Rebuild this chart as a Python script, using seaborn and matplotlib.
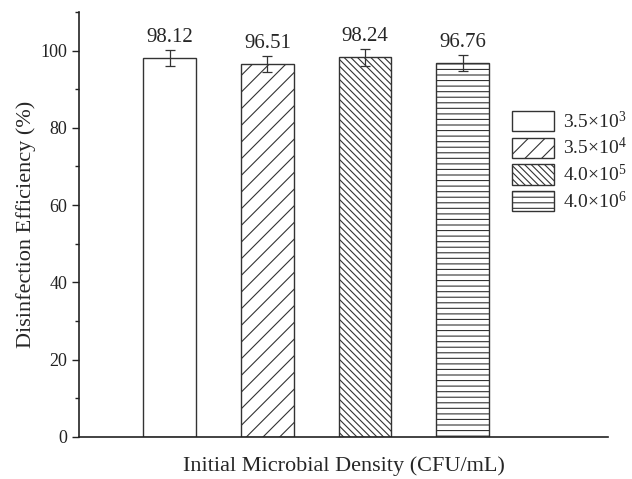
import pandas as pd
import seaborn as sns
import matplotlib.pyplot as plt
from matplotlib.ticker import MultipleLocator

# data
densities = ["3.5×10$^{3}$", "3.5×10$^{4}$", "4.0×10$^{5}$", "4.0×10$^{6}$"]
efficiency = [98.12, 96.51, 98.24, 96.76]
errors = [2.0, 2.1, 2.1, 2.1]
hatches = ["", "//", "\\\\\\\\\\", "---"]

sns.set_theme(style="ticks")
plt.rcParams['font.family'] = ['Liberation Serif', 'DejaVu Serif']
plt.rcParams['mathtext.fontset'] = 'custom'
plt.rcParams['mathtext.rm'] = 'Liberation Serif'
plt.rcParams['mathtext.it'] = 'Liberation Serif'
plt.rcParams['hatch.linewidth'] = 0.8
plt.rcParams['hatch.color'] = '#444444'

df = pd.DataFrame({"density": densities, "eff": efficiency})

fig = plt.figure(figsize=(6.32, 4.79), dpi=100)
ax = fig.add_axes([0.125, 0.088, 0.837, 0.887])

sns.barplot(data=df, x="density", y="eff", hue="density", dodge=False,
            width=0.54, palette=["white"] * 4, edgecolor="#333333",
            linewidth=1.0, errorbar=None, legend=False, ax=ax)

for bar, h in zip(ax.patches, hatches):
    bar.set_hatch(h)

xs = list(range(len(efficiency)))
ax.errorbar(xs, efficiency, yerr=errors, fmt="none", ecolor="#333333",
            elinewidth=0.9, capsize=3.5, capthick=0.9)
for x, v, e in zip(xs, efficiency, errors):
    ax.text(x, v + e + 0.8, f"{v:.2f}", ha="center", va="bottom", fontsize=15)

handles = [plt.Rectangle((0, 0), 1, 1, facecolor="white", edgecolor="#333333",
                         hatch=h, linewidth=1.0) for h in hatches]
ax.legend(handles, densities, loc="upper left", bbox_to_anchor=(0.818, 0.768),
          frameon=False, fontsize=14, handlelength=2.2, handleheight=1.25,
          labelspacing=0.28, borderpad=0, handletextpad=0.45, borderaxespad=0)

ax.set_xlim(-0.93, 4.49)
ax.set_ylim(0, 110)
ax.yaxis.set_major_locator(MultipleLocator(20))
ax.yaxis.set_minor_locator(MultipleLocator(10))
ax.tick_params(axis="y", which="major", direction="out", length=5, width=1, labelsize=13, colors="#222222")
ax.tick_params(axis="y", which="minor", direction="out", length=3, width=1, colors="#222222")
ax.tick_params(axis="x", which="both", length=0, labelbottom=False)
ax.set_xlabel("Initial Microbial Density (CFU/mL)", fontsize=16, labelpad=14)
ax.set_ylabel("Disinfection Efficiency (%)", fontsize=16, labelpad=3)
for s in ["top", "right"]:
    ax.spines[s].set_visible(False)
for s in ["left", "bottom"]:
    ax.spines[s].set_color("#222222")
    ax.spines[s].set_linewidth(1.2)

fig.savefig("out.png", dpi=100)
